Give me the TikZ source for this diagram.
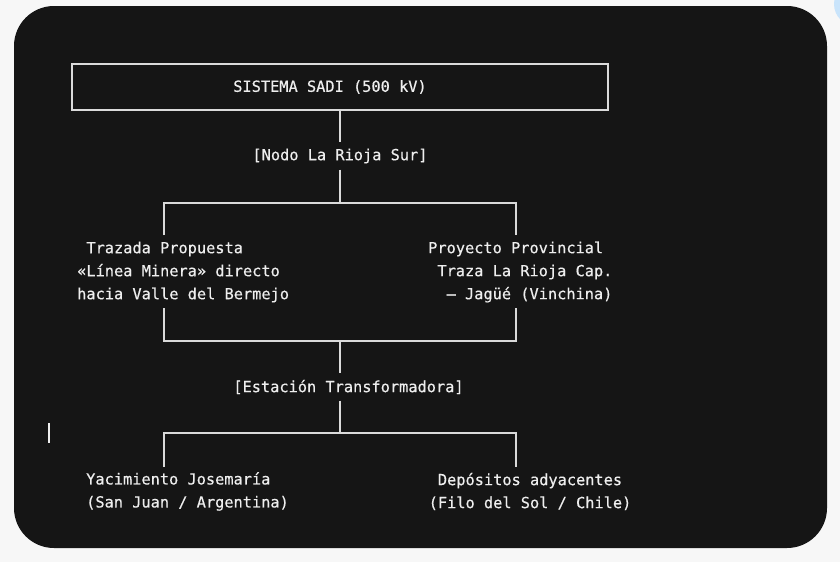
\documentclass[tikz,border=0pt]{standalone}
\usepackage{fontspec}
\newfontfamily\mono[FakeBold=0.45]{DejaVu Sans Mono}
\definecolor{pagebg}{HTML}{F7F7F7}
\definecolor{panel}{HTML}{151515}
\definecolor{linec}{HTML}{DADADA}
\definecolor{txtc}{HTML}{EEEEEE}
\definecolor{bubble}{HTML}{C9E4FB}
\tikzset{
  txt/.style={inner sep=0pt, text=txtc, font=\mono\fontsize{15.3}{23}\selectfont},
  block/.style={txt, align=left, anchor=west},
  tag/.style={txt, minimum height=27pt},
  conn/.style={draw=linec, line width=1.3pt},
  framebox/.style={draw=linec, line width=1.3pt, inner sep=0pt, minimum width=536pt, minimum height=46pt}
}
\begin{document}
\begin{tikzpicture}[x=1pt,y=-1pt]
\clip (0,0) rectangle (840,562);
\fill[pagebg] (0,0) rectangle (840,562);
\fill[bubble] (856,4) circle (22);
\fill[panel, rounded corners=40pt] (14,6) rectangle (827,548);

% top box
\node[framebox] (sadi) at (340,87) {};
\node[txt] (saditxt) at (330,87) {SISTEMA SADI (500 kV)};

\node[tag] (nodo) at (340,156) {[Nodo La Rioja Sur]};
\coordinate (j1) at (340,203);
\coordinate (ul1) at (164,235);
\coordinate (ur1) at (516,235);

\node[block] (left) at (77,272) {\phantom{T}Trazada Propuesta\\«Línea Minera» directo\\hacia Valle del Bermejo};
\node[block] (right) at (428,272) {Proyecto Provincial\\\phantom{T}Traza La Rioja Cap.\\\phantom{TT}– Jagüé (Vinchina)};

\coordinate (ul2) at (164,308);
\coordinate (ur2) at (516,308);
\coordinate (j2) at (340,341);

\node[tag] (est) at (348.5,387) {[Estación Transformadora]};
\coordinate (j3) at (340,433);
\coordinate (bl) at (164,467);
\coordinate (br) at (516,467);

\node[block] (yac) at (86,491.5) {Yacimiento Josemaría\\(San Juan / Argentina)};
\node[block] (dep) at (428.5,491.5) {\phantom{(}Depósitos adyacentes\\(Filo del Sol / Chile)};

% connectors
\draw[conn] (sadi.south) -- (nodo.north);
\draw[conn] (nodo.south) -- (j1);
\draw[conn] (ul1) |- (j1) -| (ur1);
\draw[conn] (ul2) |- (j2) -| (ur2);
\draw[conn] (j2) -- (est.north -| j2);
\draw[conn] (est.south -| j2) -- (j3);
\draw[conn] (bl) |- (j3) -| (br);

% stray cursor bar
\draw[draw=txtc, line width=1.2pt] (49,423) -- (49,443);
\end{tikzpicture}
\end{document}
